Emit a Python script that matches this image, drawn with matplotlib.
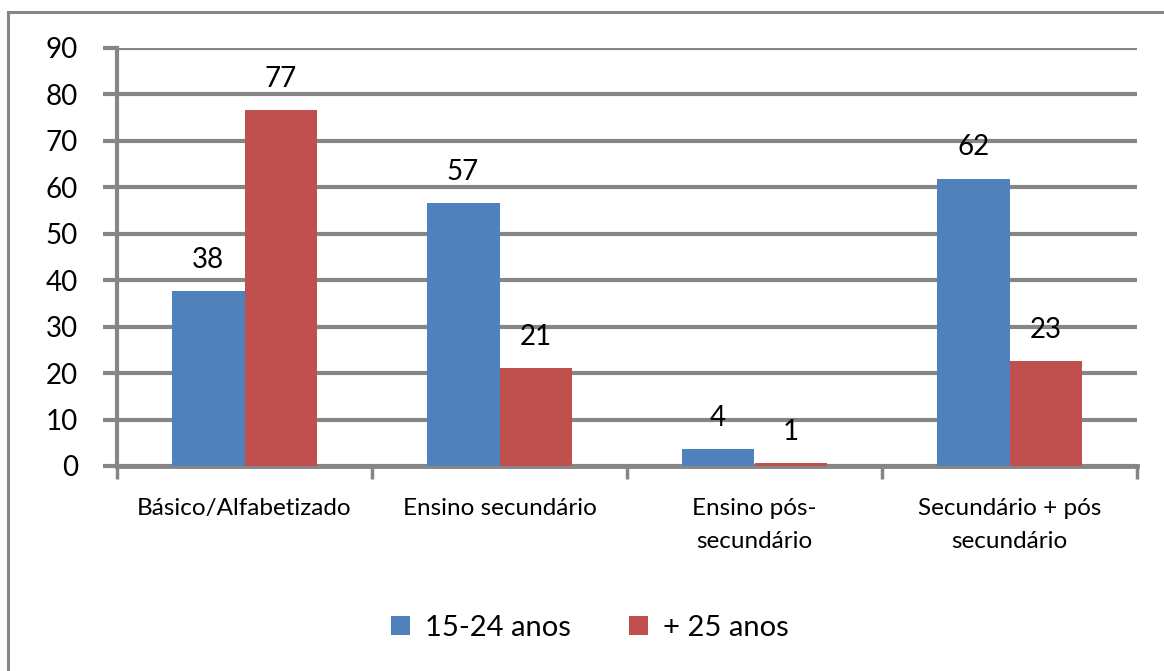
import numpy as np
import matplotlib.pyplot as plt
from matplotlib.patches import Rectangle
from matplotlib.ticker import FixedLocator

categories = ['Básico/Alfabetizado', 'Ensino secundário', 'Ensino pós-\nsecundário',
              'Secundário + pós\nsecundário']
jovens = [37.6, 56.6, 3.6, 61.9]
adultos = [76.7, 21.0, 0.6, 22.7]
jovens_lbl = ['38', '57', '4', '62']
adultos_lbl = ['77', '21', '1', '23']
series_names = ['15-24 anos', '+ 25 anos']
yticks = [0, 10, 20, 30, 40, 50, 60, 70, 80, 90]

plt.rcParams['font.family'] = ['Lato', 'DejaVu Sans']
grey = '#868686'
blue = '#4F81BD'
red = '#C0504D'

fig = plt.figure(figsize=(11.64, 6.71), dpi=100)
fig.patches.append(Rectangle((8/1164, -0.1), 1.2, 1 - 12/671 + 0.1, transform=fig.transFigure,
                             fill=False, edgecolor=grey, lw=2.2, zorder=0))
ax = fig.add_axes([117/1164, 1 - 466/671, 1020/1164, 418/671])

x = np.arange(len(categories))
w = 1/3.5
b1 = ax.bar(x - w/2, jovens, w, color=blue, label=series_names[0], zorder=3)
b2 = ax.bar(x + w/2, adultos, w, color=red, label=series_names[1], zorder=3)

for bars, lbls in [(b1, jovens_lbl), (b2, adultos_lbl)]:
    for r, t in zip(bars, lbls):
        ax.annotate(t, (r.get_x() + r.get_width()/2, r.get_height()), xytext=(0, 13),
                    textcoords='offset points', ha='center', va='bottom', fontsize=20)

ax.set_xlim(-0.5, 3.5)
ax.set_ylim(0, 90)
ax.set_yticks(yticks)
ax.yaxis.grid(True, color=grey, lw=3, zorder=1)
ax.set_axisbelow(True)

ax.set_xticks(x)
ax.set_xticklabels(categories, fontsize=17.5, linespacing=1.7, va='top')
ax.xaxis.set_minor_locator(FixedLocator(np.arange(-0.5, 4, 1)))
ax.tick_params(axis='x', which='major', length=0, pad=23)
ax.tick_params(axis='x', which='minor', length=9, width=2.5, color=grey)
ax.tick_params(axis='y', length=10, width=3, color=grey, labelsize=20, pad=18)

for s in ['top', 'right']:
    ax.spines[s].set_visible(False)
ax.spines['left'].set_color(grey)
ax.spines['left'].set_linewidth(3)
ax.spines['bottom'].set_color(grey)
ax.spines['bottom'].set_linewidth(3.5)

fig.legend(loc='center', bbox_to_anchor=(590/1164, 1 - 628/671), ncol=2, frameon=False,
           fontsize=21, handlelength=0.65, handleheight=0.65, handletextpad=0.5, columnspacing=2.0)

fig.savefig('out.png', dpi=100)
